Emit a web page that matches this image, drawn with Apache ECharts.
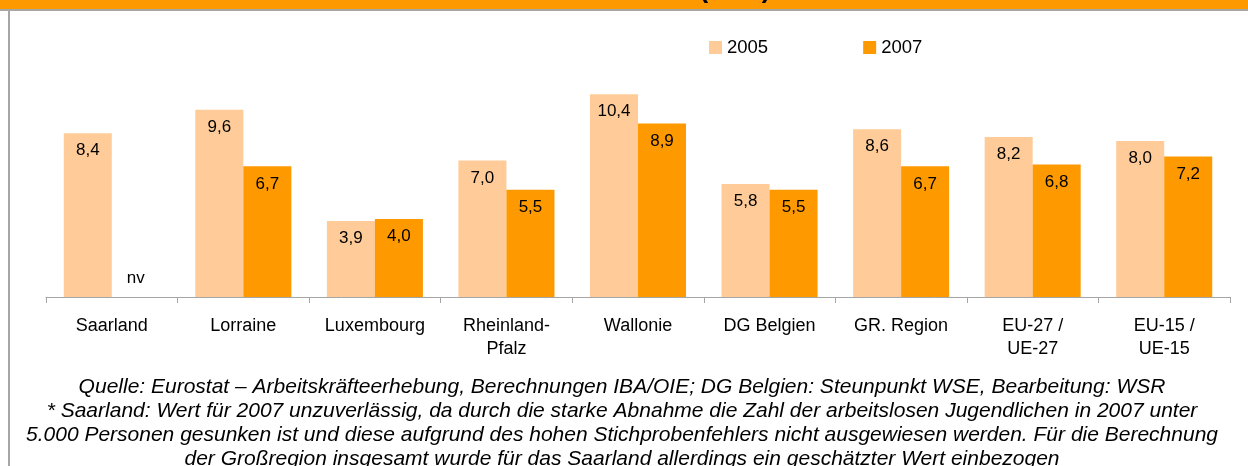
<!DOCTYPE html>
<html>
<head>
<meta charset="utf-8">
<script src="https://cdn.jsdelivr.net/npm/echarts@6/dist/echarts.min.js"></script>
<style>
  html, body { margin: 0; padding: 0; background: #fff; }
  #chart { width: 1248px; height: 466px; }
</style>
</head>
<body>
<div id="chart"></div>
<script>
// Regionen
var regionen = ['Saarland', 'Lorraine', 'Luxembourg', 'Rheinland-\nPfalz', 'Wallonie', 'DG Belgien', 'GR. Region', 'EU-27 /\nUE-27', 'EU-15 /\nUE-15'];
// Werte (null = nv)
var werte2005 = [8.4, 9.6, 3.9, 7.0, 10.4, 5.8, 8.6, 8.2, 8.0];
var werte2007 = [null, 6.7, 4.0, 5.5, 8.9, 5.5, 6.7, 6.8, 7.2];

var fussnote = [
    'Quelle: Eurostat \u2013 Arbeitskr\u00e4fteerhebung, Berechnungen IBA/OIE; DG Belgien: Steunpunkt WSE, Bearbeitung: WSR',
    '* Saarland: Wert f\u00fcr 2007 unzuverl\u00e4ssig, da durch die starke Abnahme die Zahl der arbeitslosen Jugendlichen in 2007 unter',
    '5.000 Personen gesunken ist und diese aufgrund des hohen Stichprobenfehlers nicht ausgewiesen werden. F\u00fcr die Berechnung',
    'der Gro\u00dfregion insgesamt wurde f\u00fcr das Saarland allerdings ein gesch\u00e4tzter Wert einbezogen'
];

var schrift = "'Liberation Sans', Arial, sans-serif";

function komma(p) {
    return p.value.toFixed(1).replace('.', ',');
}

var daten2007 = werte2007.map(function (v) {
    if (v === null) {
        return { value: 0, label: { position: 'top', distance: 10, formatter: 'nv' } };
    }
    return v;
});

var myChart = echarts.init(document.getElementById('chart'));

var option = {
    backgroundColor: '#fff',
    animation: false,
    textStyle: { fontFamily: schrift },
    legend: {
        data: ['2005', '2007'],
        left: 704,
        top: 33,
        icon: 'rect',
        itemWidth: 13,
        itemHeight: 13,
        itemGap: 95,
        textStyle: { fontSize: 18.5, color: '#000', fontFamily: schrift }
    },
    grid: { left: 46, right: 18, top: 63, bottom: 169 },
    xAxis: {
        type: 'category',
        data: regionen,
        axisLine: { lineStyle: { color: '#a6a6a6', width: 1 } },
        axisTick: { show: true, length: 6, lineStyle: { color: '#a6a6a6' } },
        axisLabel: { color: '#000', fontSize: 18, lineHeight: 23, margin: 18, interval: 0, fontFamily: schrift }
    },
    yAxis: {
        type: 'value',
        min: 0,
        max: 12,
        show: false,
        splitLine: { show: false }
    },
    series: [
        {
            name: '2005',
            type: 'bar',
            data: werte2005,
            barGap: '0%',
            barCategoryGap: '27%',
            itemStyle: { color: '#ffcc99' },
            label: { show: true, position: 'insideTop', distance: 9, color: '#000', fontSize: 17, formatter: komma, fontFamily: schrift }
        },
        {
            name: '2007',
            type: 'bar',
            data: daten2007,
            itemStyle: { color: '#ff9900' },
            label: { show: true, position: 'insideTop', distance: 9, color: '#000', fontSize: 17, formatter: komma, fontFamily: schrift }
        }
    ],
    graphic: [
        { type: 'rect', left: 0, top: 0, shape: { width: 1248, height: 9 }, style: { fill: '#ff9900' }, silent: true },
        { type: 'text', x: 735, y: 4, style: { text: '(in %)', fill: '#000', font: "bold 26px 'Liberation Sans', Arial, sans-serif", align: 'center', verticalAlign: 'bottom' }, silent: true },
        { type: 'rect', left: 0, top: 9, shape: { width: 1248, height: 2 }, style: { fill: '#a6a6a6' }, silent: true },
        { type: 'rect', left: 8, top: 9, shape: { width: 2, height: 457 }, style: { fill: '#a6a6a6' }, silent: true },
        {
            type: 'text',
            x: 622,
            y: 375,
            style: {
                text: fussnote.join('\n'),
                fill: '#000',
                font: "italic 21px 'Liberation Sans', Arial, sans-serif",
                lineHeight: 24,
                align: 'center',
                verticalAlign: 'top'
            },
            silent: true
        }
    ]
};

myChart.setOption(option);
</script>
</body>
</html>
